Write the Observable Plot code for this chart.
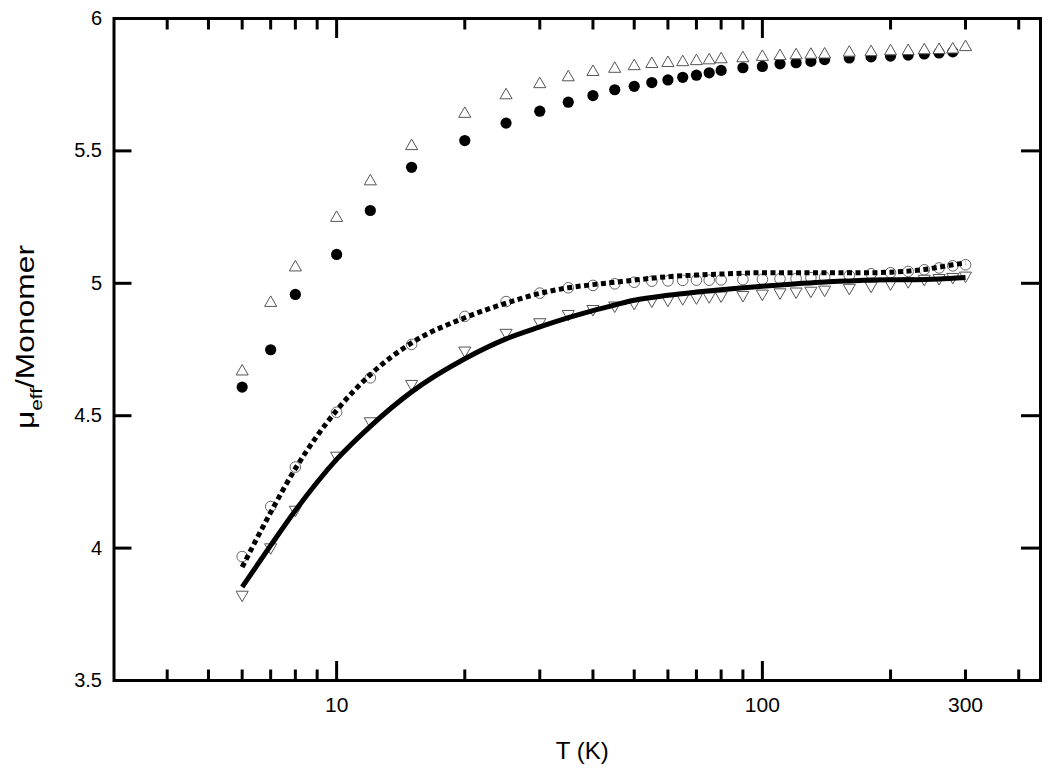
<!DOCTYPE html>
<html>
<head>
<meta charset="utf-8">
<script src="https://cdn.jsdelivr.net/npm/d3@7"></script>
<script src="https://cdn.jsdelivr.net/npm/@observablehq/plot@0.6"></script>
<style>
  body { margin: 0; background: #fff; }
  #chart svg { display: block; }
</style>
</head>
<body>
<div id="chart"></div>
<script>
// Temperatures (K) of the measured points
const T = [6,7,8,10,12,15,20,25,30,35,40,45,50,55,60,65,70,75,80,90,100,110,120,130,140,160,180,200,220,240,260,280,300];
// Open up-triangles
const upTri = [4.667,4.926,5.060,5.247,5.385,5.518,5.640,5.710,5.752,5.778,5.798,5.810,5.820,5.828,5.832,5.835,5.839,5.842,5.846,5.850,5.855,5.858,5.861,5.863,5.864,5.871,5.873,5.876,5.877,5.880,5.881,5.883,5.892];
// Filled circles (6 ... 280 K)
const filledT = [6,7,8,10,12,15,20,25,30,35,40,45,50,55,60,65,70,75,80,90,100,110,120,130,140,160,180,200,220,240,260,280];
const filledCircle = [4.608,4.749,4.958,5.109,5.275,5.438,5.539,5.605,5.650,5.684,5.709,5.731,5.744,5.758,5.768,5.778,5.786,5.795,5.804,5.814,5.819,5.829,5.833,5.838,5.845,5.851,5.855,5.858,5.862,5.866,5.870,5.874];
// Open circles
const openCircle = [3.968,4.157,4.306,4.513,4.643,4.769,4.875,4.931,4.963,4.983,4.992,4.998,5.004,5.008,5.009,5.011,5.012,5.012,5.013,5.014,5.015,5.017,5.018,5.021,5.023,5.029,5.036,5.040,5.045,5.051,5.058,5.066,5.070];
// Open down-triangles
const downTri = [3.824,4.003,4.145,4.349,4.479,4.620,4.746,4.813,4.853,4.884,4.903,4.916,4.926,4.935,4.938,4.944,4.947,4.951,4.954,4.956,4.961,4.966,4.969,4.972,4.976,4.983,4.991,5.000,5.008,5.017,5.020,5.024,5.029];
// Fit curves
const fitT = [6,7,8,10,12,15,20,25,30,35,40,45,50,60,70,80,90,100,120,140,160,180,200,220,240,260,280,300];
const fitDotted = [3.928,4.135,4.300,4.520,4.655,4.775,4.870,4.925,4.962,4.983,4.995,5.004,5.012,5.025,5.031,5.035,5.038,5.040,5.040,5.040,5.040,5.040,5.042,5.046,5.052,5.061,5.070,5.077];
const fitSolid = [3.853,4.010,4.142,4.335,4.460,4.590,4.715,4.790,4.835,4.870,4.897,4.918,4.936,4.955,4.967,4.976,4.983,4.989,4.998,5.005,5.009,5.012,5.013,5.013,5.014,5.016,5.019,5.022];
// Axis ticks
const xMajorTicks = [10, 100];
const xMinorTicks = [4,5,6,7,8,9,20,30,40,50,60,70,80,90,200,300,400];
const xTickLabels = [10, 100, 300];
const yTicks = [3.5, 4, 4.5, 5, 5.5, 6];
const xLabel = "T (K)";

const rows = (xs, ys) => xs.map((x, i) => ({x, y: ys[i]}));

const font = "'Liberation Sans', Arial, Helvetica, sans-serif";
const blank = () => "";

const chart = Plot.plot({
  width: 1050,
  height: 770,
  marginLeft: 113.5,
  marginRight: 10,
  marginTop: 18,
  marginBottom: 90,
  style: {fontFamily: font, fontSize: "20px", color: "black", background: "white"},
  x: {type: "log", domain: [3, 450]},
  y: {domain: [3.5, 6]},
  marks: [
    // bottom axis
    Plot.axisX({anchor: "bottom", ticks: xTickLabels, tickSize: 0, tickPadding: 17, tickFormat: d => String(d), label: null, fontSize: 21}),
    Plot.axisX({anchor: "bottom", ticks: xMajorTicks, tickSize: -19, strokeWidth: 3, tickFormat: blank, label: null}),
    Plot.axisX({anchor: "bottom", ticks: xMinorTicks, tickSize: -10.5, strokeWidth: 3, tickFormat: blank, label: null}),
    // top axis (ticks only)
    Plot.axisX({anchor: "top", ticks: xMajorTicks, tickSize: -19, strokeWidth: 3, tickFormat: blank, label: null}),
    Plot.axisX({anchor: "top", ticks: xMinorTicks, tickSize: -10.5, strokeWidth: 3, tickFormat: blank, label: null}),
    // left axis
    Plot.axisY({anchor: "left", ticks: yTicks, tickSize: -18, tickPadding: 30, strokeWidth: 3, tickFormat: d => String(d), label: null, fontSize: 20}),
    // right axis (ticks only)
    Plot.axisY({anchor: "right", ticks: yTicks, tickSize: -20, strokeWidth: 3, tickFormat: blank, label: null}),
    // lower group markers
    Plot.dot(rows(T, openCircle), {x: "x", y: "y", r: 5.3, fill: "white", stroke: "#666", strokeWidth: 1}),
    Plot.dot(rows(T, downTri), {x: "x", y: "y", symbol: "triangle", rotate: 180, r: 4.5, fill: "white", stroke: "#555", strokeWidth: 1}),
    // fit curves
    Plot.line(rows(fitT, fitDotted), {x: "x", y: "y", stroke: "black", strokeWidth: 5, strokeDasharray: "5,3.5", strokeLinecap: "butt", curve: "monotone-x"}),
    Plot.line(rows(fitT, fitSolid), {x: "x", y: "y", stroke: "black", strokeWidth: 5, strokeLinecap: "butt", curve: "monotone-x"}),
    // upper group markers
    Plot.dot(rows(filledT, filledCircle), {x: "x", y: "y", r: 5.6, fill: "black", stroke: "none"}),
    Plot.dot(rows(T, upTri), {x: "x", y: "y", symbol: "triangle", r: 4.5, fill: "white", stroke: "#555", strokeWidth: 1}),
    // x axis title
    Plot.text([xLabel], {frameAnchor: "bottom", dx: 5, dy: 71, text: d => d, fontSize: 24, lineAnchor: "middle", fill: "black"}),
    Plot.frame({stroke: "black", strokeWidth: 3})
  ]
});

// y axis title with subscript
const svg = d3.select(chart);
const yt = svg.append("text")
  .attr("transform", "translate(34,337) rotate(-90)")
  .attr("text-anchor", "middle")
  .attr("font-family", font)
  .attr("font-size", 26)
  .attr("fill", "black")
  .attr("textLength", 184)
  .attr("lengthAdjust", "spacingAndGlyphs");
yt.append("tspan").text("μ");
yt.append("tspan").attr("font-size", 17).attr("dy", 8).text("eff");
yt.append("tspan").attr("dy", -8).text("/Monomer");

document.getElementById("chart").appendChild(chart);
</script>
</body>
</html>
